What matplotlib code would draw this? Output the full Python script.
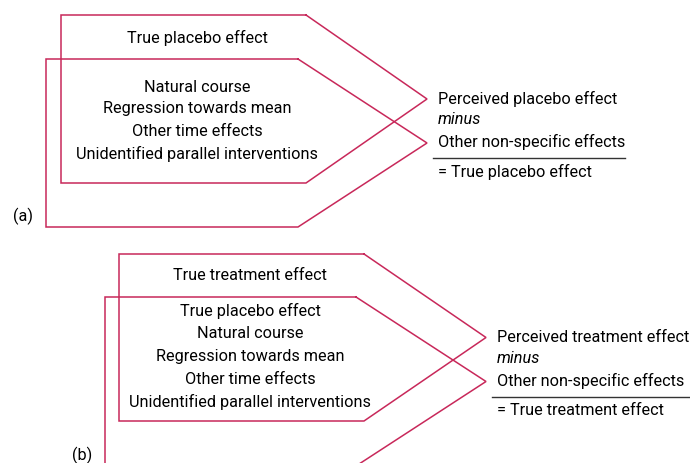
import matplotlib.pyplot as plt

# texts of the two panels
panel_labels = ['(a)', '(b)']
top_box_text = ['True placebo effect', 'True treatment effect']
inner_box_text = [
    ['Natural course', 'Regression towards mean', 'Other time effects',
     'Unidentified parallel interventions'],
    ['True placebo effect', 'Natural course', 'Regression towards mean',
     'Other time effects', 'Unidentified parallel interventions'],
]
perceived_text = ['Perceived placebo effect', 'Perceived treatment effect']
other_text = ['Other non-specific effects', 'Other non-specific effects']
result_text = ['= True placebo effect', '= True treatment effect']

# pentagon geometry (left, top, shoulder x, tip x, bottom) in pixels
outer_boxes = [(61, 15, 306, 427, 183), (119, 254, 364, 486, 421)]
inner_boxes = [(46, 59, 298, 427, 227), (105, 297, 356, 486, 466)]
text_cx = [197, 250]
inner_rows = [[87, 109, 131, 154], [311, 334, 357, 379, 402]]
rule_len = [192, 198]

RED = '#c8285a'
plt.rcParams['font.family'] = ['Roboto', 'DejaVu Sans']

fig = plt.figure(figsize=(6.9, 4.63), dpi=100)
ax = fig.add_axes([0, 0, 1, 1])
ax.set_xlim(0, 690)
ax.set_ylim(463, 0)
ax.axis('off')


def pentagon(box):
    l, t, s, tip, b = box
    xs = [s, l, l, s, tip, s]
    ys = [t, t, b, b, (t + b) / 2, t]
    ax.plot(xs, ys, color=RED, lw=1.1, solid_joinstyle='miter')


fs = 11.7
for i in range(2):
    pentagon(outer_boxes[i])
    pentagon(inner_boxes[i])
    ol, ot, os_, otip, ob = outer_boxes[i]
    il, it, is_, itip, ib = inner_boxes[i]
    cx = text_cx[i]
    ax.text(cx, (ot + it) / 2 + 0.5, top_box_text[i], ha='center', va='center', fontsize=fs)
    for y, s in zip(inner_rows[i], inner_box_text[i]):
        ax.text(cx, y, s, ha='center', va='center', fontsize=fs)

    tx = otip + 11
    y0 = (ot + ob) / 2
    ax.text(tx, y0, perceived_text[i], ha='left', va='center', fontsize=fs)
    ax.text(tx, y0 + 21, 'minus', ha='left', va='center', fontsize=fs, style='italic')
    ax.text(tx, y0 + 43, other_text[i], ha='left', va='center', fontsize=fs)
    ax.plot([tx - 5, tx - 5 + rule_len[i]], [y0 + 59, y0 + 59], color='#333333', lw=1.0)
    ax.text(tx, y0 + 73, result_text[i], ha='left', va='center', fontsize=fs)

ax.text(13, 216, panel_labels[0], ha='left', va='center', fontsize=fs)
ax.text(72, 455, panel_labels[1], ha='left', va='center', fontsize=fs)

fig.savefig('out.png', dpi=100)
